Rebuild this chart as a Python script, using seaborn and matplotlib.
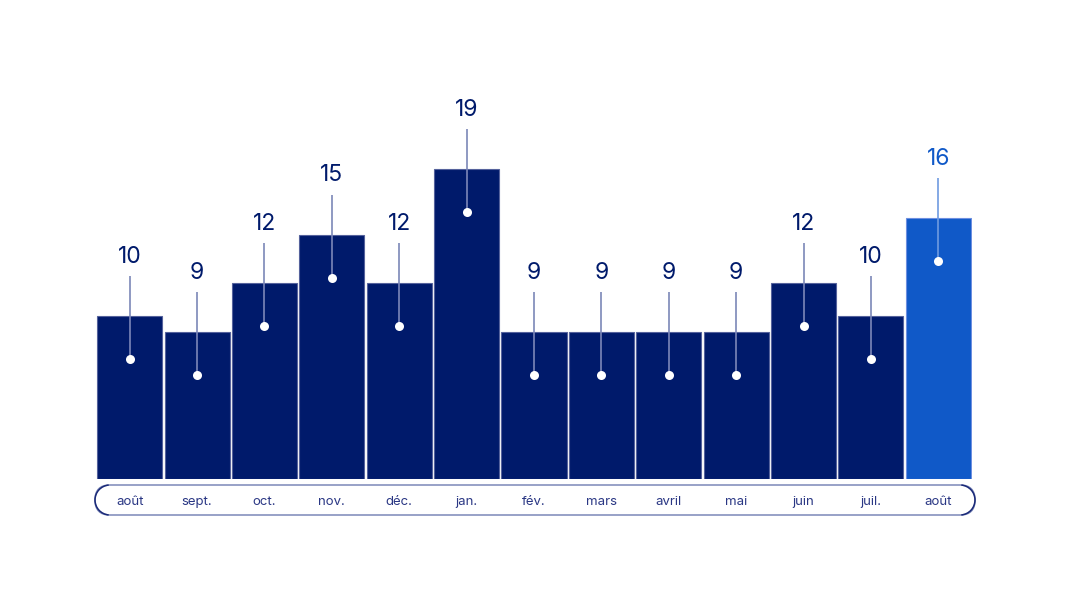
import numpy as np
import pandas as pd
import seaborn as sns
import matplotlib.pyplot as plt
from matplotlib.patches import FancyBboxPatch, Arc
from matplotlib.transforms import IdentityTransform, blended_transform_factory

# data
months = ["août", "sept.", "oct.", "nov.", "déc.", "jan.", "fév.",
          "mars", "avril", "mai", "juin", "juil.", "août"]
values = [10, 9, 12, 15, 12, 19, 9, 9, 9, 9, 12, 10, 16]
highlight = [False] * 12 + [True]

NAVY = "#001a6b"
BLUE = "#1059c8"

df = pd.DataFrame({"pos": range(len(values)), "value": values,
                   "group": ["hi" if h else "base" for h in highlight]})

sns.set_theme(style="white")
plt.rcParams["font.family"] = ["Inter", "DejaVu Sans"]

W, H = 1066, 595
fig = plt.figure(figsize=(W / 100, H / 100), dpi=100)
# axes placed in pixels: baseline at y=479, bars from x=96 to 972
ax = fig.add_axes([96 / W, 116 / H, 876 / W, 419 / H])

sns.barplot(data=df, x="pos", y="value", hue="group",
            palette={"base": NAVY, "hi": BLUE}, width=0.965,
            dodge=False, legend=False, ax=ax, saturation=1)

for patch, h in zip(sorted(ax.patches, key=lambda p: p.get_x()), highlight):
    patch.set_edgecolor("#6d8fe0" if h else "#55629c")
    patch.set_linewidth(0.8)

ax.set_xlim(-0.5, len(values) - 0.5)
ax.set_ylim(0, 419 / 16.3)
ax.set_axis_off()

px = 1 / 16.3  # one pixel in data units
for i, (v, h) in enumerate(zip(values, highlight)):
    line_c = "#6f9be0" if h else "#7c87b8"
    txt_c = BLUE if h else NAVY
    ax.plot([i, i], [v + 40 * px, v - 43 * px], color=line_c, lw=1.2, solid_capstyle="butt")
    ax.plot(i, v - 43 * px, "o", color="white", markersize=6.5, markeredgewidth=0)
    ax.text(i, v + 59 * px, str(v), ha="center", va="center", fontsize=16.5, color=txt_c)

# month labels inside a pill under the bars
trans = blended_transform_factory(ax.transData, ax.transAxes)
for i, m in enumerate(months):
    ax.text(i, (93 - 116) / 419, m, transform=trans, ha="center", va="center",
            fontsize=9.5, color="#2a3784")

ident = IdentityTransform()
pill = FancyBboxPatch((95, H - 515), 880, 30, boxstyle="round,pad=0,rounding_size=15",
                      transform=ident, fill=False, edgecolor="#7c87b8", linewidth=1.1)
fig.patches.append(pill)
fig.patches.append(Arc((110, H - 500), 30, 30, theta1=95, theta2=265, transform=ident,
                       edgecolor="#1a2a78", linewidth=1.1))
fig.patches.append(Arc((960, H - 500), 30, 30, theta1=-85, theta2=85, transform=ident,
                       edgecolor="#1a2a78", linewidth=1.1))

fig.savefig("out.png", dpi=100, facecolor="white")
